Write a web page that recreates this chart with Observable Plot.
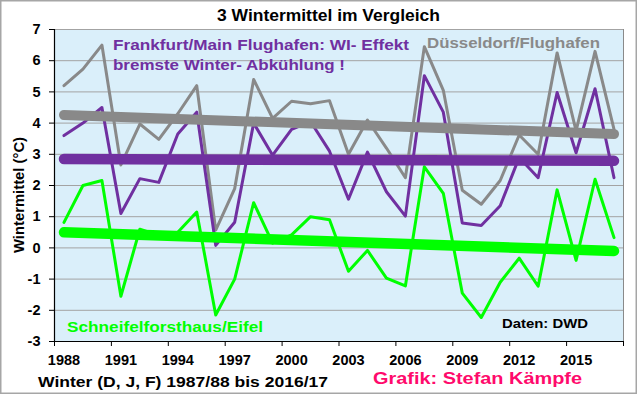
<!DOCTYPE html>
<html><head><meta charset="utf-8">
<script src="https://cdn.jsdelivr.net/npm/d3@7"></script>
<script src="https://cdn.jsdelivr.net/npm/@observablehq/plot@0.6"></script>
<style>
html,body{margin:0;padding:0;background:#fff;}
#chart{width:640px;height:395px;position:relative;}
</style>
</head><body><div id="chart"></div>
<script>
const years = [1988,1989,1990,1991,1992,1993,1994,1995,1996,1997,1998,1999,2000,2001,2002,2003,2004,2005,2006,2007,2008,2009,2010,2011,2012,2013,2014,2015,2016,2017];
const duesseldorf = [5.2,5.73,6.5,2.66,3.97,3.48,4.3,5.2,0.57,1.9,5.4,4.15,4.7,4.62,4.72,3.0,4.1,3.2,2.25,6.45,5.05,1.85,1.4,2.16,3.62,3.0,6.25,3.75,6.3,3.8];
const frankfurt = [3.6,4.0,4.5,1.1,2.22,2.1,3.65,4.35,0.08,0.82,4.0,2.97,3.8,4.05,3.1,1.56,3.07,1.8,1.02,5.52,4.35,0.8,0.72,1.35,2.9,2.25,4.98,3.05,5.1,2.25];
const schneifel = [0.82,2.0,2.16,-1.55,0.6,0.4,0.5,1.15,-2.15,-1.0,1.45,0.15,0.42,1.0,0.9,-0.75,-0.08,-0.97,-1.22,2.6,1.75,-1.45,-2.23,-1.1,-0.33,-1.23,1.86,-0.4,2.2,0.33];
const trendYears = [1988, 2017];
const trendDuesseldorf = [4.26, 3.65];
const trendFrankfurt = [2.85, 2.79];
const trendSchneifel = [0.5, -0.1];
const yTicks = [-3,-2,-1,0,1,2,3,4,5,6,7];
const xTickLabels = [1988,1991,1994,1997,2000,2003,2006,2009,2012,2015];
const xTickMarks = [1987.5,1990.5,1993.5,1996.5,1999.5,2002.5,2005.5,2008.5,2011.5,2014.5,2017.5];

const cGray = "#898989", cPurple = "#7030A0", cGreen = "#00FF00";
const rows = (xs, vals) => xs.map((year, i) => ({year, value: vals[i]}));

const plot = Plot.plot({
  width: 640, height: 395,
  marginLeft: 54, marginRight: 17, marginTop: 29, marginBottom: 54,
  style: {fontFamily: "'Liberation Sans', Arial, sans-serif", fontWeight: "bold", fontSize: "14.5px", color: "#000", background: "transparent", overflow: "visible"},
  x: {domain: [1987.5, 2017.5]},
  y: {domain: [-3, 7]},
  marks: [
    Plot.frame({fill: "#DAEFFA", stroke: "#8a8a8a", strokeWidth: 1}),
    Plot.gridY(yTicks, {stroke: "#A3A3A3", strokeOpacity: 1, strokeWidth: 1}),
    Plot.lineY(rows(years, duesseldorf), {x: "year", y: "value", stroke: cGray, strokeWidth: 3}),
    Plot.lineY(rows(years, frankfurt), {x: "year", y: "value", stroke: cPurple, strokeWidth: 3}),
    Plot.lineY(rows(years, schneifel), {x: "year", y: "value", stroke: cGreen, strokeWidth: 3}),
    Plot.lineY(rows(trendYears, trendDuesseldorf), {x: "year", y: "value", stroke: cGray, strokeWidth: 10, strokeLinecap: "round"}),
    Plot.lineY(rows(trendYears, trendFrankfurt), {x: "year", y: "value", stroke: cPurple, strokeWidth: 10.5, strokeLinecap: "round"}),
    Plot.lineY(rows(trendYears, trendSchneifel), {x: "year", y: "value", stroke: cGreen, strokeWidth: 10.5, strokeLinecap: "round"}),
    Plot.ruleX([1987.5], {stroke: "#000", strokeWidth: 1.2}),
    Plot.ruleY([-3], {stroke: "#000", strokeWidth: 1.2}),
    Plot.axisY(yTicks, {tickSize: 5, tickPadding: 9, tickFormat: d => String(d), label: null, fontSize: 14.5, stroke: "#000"}),
    Plot.axisX(xTickMarks, {tickSize: 5, tickFormat: () => "", label: null, stroke: "#000"}),
    Plot.axisX(xTickLabels, {tickSize: 0, tickPadding: 13, tickFormat: d => String(d), label: null, fontSize: 14.5})
  ]
});
document.getElementById("chart").appendChild(plot);

const svg = d3.select(plot);
svg.insert("rect", ":first-child").attr("x", 0).attr("y", 0).attr("width", 640).attr("height", 395).attr("fill", "#fff");
svg.append("rect").attr("x", 0.75).attr("y", 0.75).attr("width", 635.5).attr("height", 392.5)
  .attr("fill", "none").attr("stroke", "#A6A6A6").attr("stroke-width", 1.5);

function label(text, x, y, size, len, color, extra) {
  const t = svg.append("text").text(text).attr("x", x).attr("y", y)
    .attr("text-anchor", "start")
    .attr("font-family", "'Liberation Sans', Arial, sans-serif").attr("font-weight", "bold")
    .attr("font-size", size).attr("fill", color);
  if (len) t.attr("textLength", len).attr("lengthAdjust", "spacingAndGlyphs");
  if (extra) extra(t);
  return t;
}
label("3 Wintermittel im Vergleich", 217, 21, 16, 223, "#000");
label("Frankfurt/Main Flughafen: WI- Effekt", 113, 50, 15, 296, cPurple);
label("bremste Winter- Abkühlung !", 113, 70, 15, 232, cPurple);
label("Düsseldorf/Flughafen", 427, 48, 15, 173, cGray);
label("Schneifelforsthaus/Eifel", 67, 332, 15, 196, cGreen);
label("Daten: DWD", 502, 328, 13, 86, "#000");
label("Winter (D, J, F) 1987/88 bis 2016/17", 38, 387, 15.5, 290, "#000");
label("Grafik: Stefan Kämpfe", 373, 384, 16, 209, "#FF0A6C");
label("Wintermittel (°C)", 0, 0, 14.5, 116, "#000", t => t.attr("transform", "translate(24,253) rotate(-90)"));
</script>
</body></html>
